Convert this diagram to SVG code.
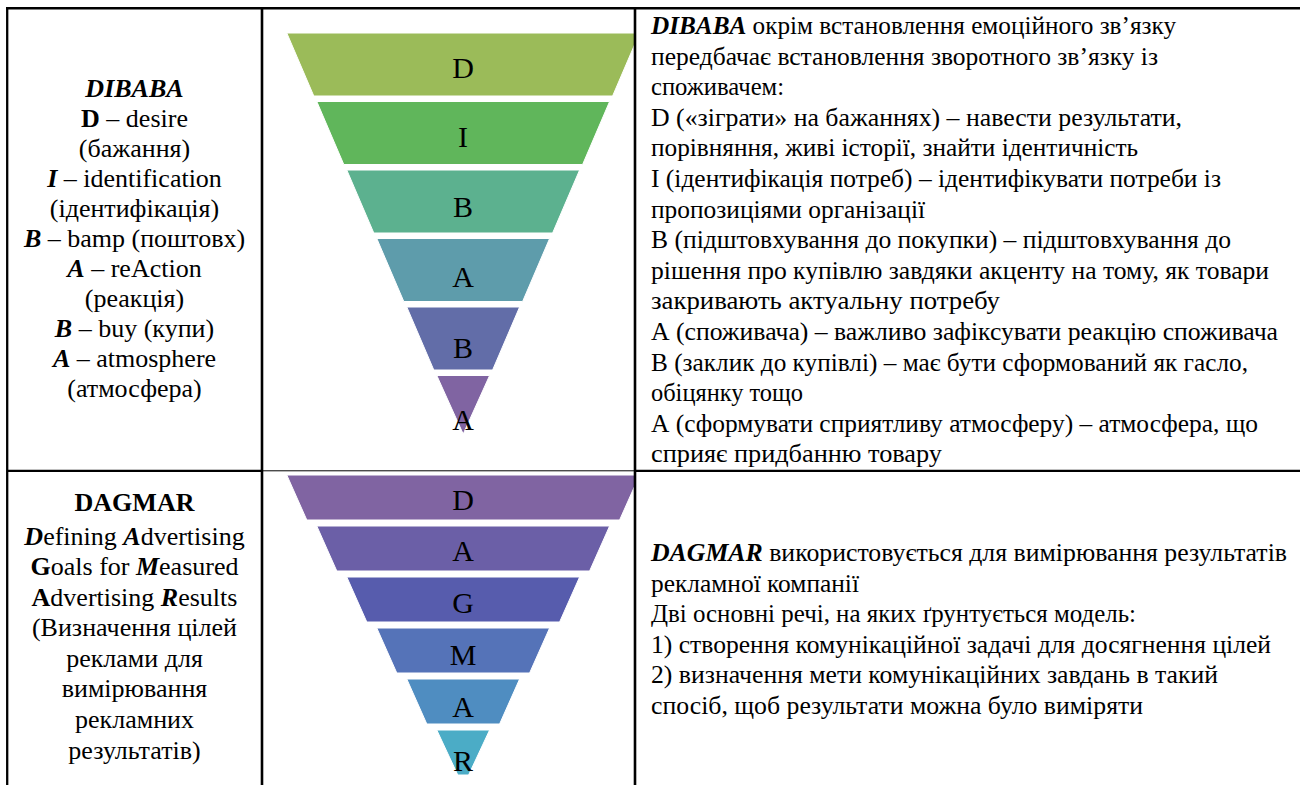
<svg xmlns="http://www.w3.org/2000/svg" width="1300" height="785" viewBox="0 0 1300 785" font-family="Liberation Serif, serif">
<style>
text{font-family:'Liberation Serif',serif;fill:#000}
.t{font-size:26px}
.c{text-anchor:middle}
.b{font-weight:bold}
.bi{font-weight:bold;font-style:italic}
.fl{font-size:30px;text-anchor:middle}
.band{stroke:#fff;stroke-width:1}
.g{stroke:#000;fill:none}
</style>
<rect width="1300" height="785" fill="#fff"/>

<g id="dibaba-legend">
<text class="t c" x="134.5" y="96.5"><tspan class="bi">DIBABA</tspan></text>
<text class="t c" x="134.5" y="126.5"><tspan class="b">D</tspan> – desire</text>
<text class="t c" x="134.5" y="156.5">(бажання)</text>
<text class="t c" x="134.5" y="186.5"><tspan class="bi">I</tspan> – identification</text>
<text class="t c" x="134.5" y="216.5">(ідентифікація)</text>
<text class="t c" x="134.5" y="246.5"><tspan class="bi">B</tspan> – bamp (поштовх)</text>
<text class="t c" x="134.5" y="276.5"><tspan class="bi">A</tspan> – reAction</text>
<text class="t c" x="134.5" y="306.5">(реакція)</text>
<text class="t c" x="134.5" y="336.5"><tspan class="bi">B</tspan> – buy (купи)</text>
<text class="t c" x="134.5" y="366.5"><tspan class="bi">A</tspan> – atmosphere</text>
<text class="t c" x="134.5" y="396.5">(атмосфера)</text>
</g>

<g id="dibaba-funnel">
<polygon class="band" fill="#9BBB59" points="286.8,33 635,33 635,43.7 612.6,96 313.8,96"/>
<polygon class="band" fill="#60B65B" points="316.8,101.5 609.6,101.5 582.6,164.5 343.8,164.5"/>
<polygon class="band" fill="#5CB18F" points="346.8,170 579.6,170 552.6,233 373.8,233"/>
<polygon class="band" fill="#5E9CAB" points="376.8,238.5 549.6,238.5 522.6,301.5 403.8,301.5"/>
<polygon class="band" fill="#626DA8" points="406.8,307 519.6,307 492.6,370 433.8,370"/>
<polygon class="band" fill="#8064A2" points="436.8,375.5 489.6,375.5 463.2,434"/>
<text class="fl" x="463" y="78">D</text>
<text class="fl" x="463" y="147">I</text>
<text class="fl" x="463" y="216.5">B</text>
<text class="fl" x="463" y="287">A</text>
<text class="fl" x="463" y="358">B</text>
<text class="fl" x="463" y="430">A</text>
</g>

<g id="dibaba-description">
<text class="t" x="651" y="34" textLength="525" lengthAdjust="spacingAndGlyphs"><tspan class="bi">DIBABA</tspan> окрім встановлення емоційного зв’язку</text>
<text class="t" x="651" y="64.6" textLength="507" lengthAdjust="spacingAndGlyphs">передбачає встановлення зворотного зв’язку із</text>
<text class="t" x="651" y="95.2" textLength="133" lengthAdjust="spacingAndGlyphs">споживачем:</text>
<text class="t" x="651" y="125.8" textLength="531" lengthAdjust="spacingAndGlyphs">D («зіграти» на бажаннях) – навести  результати,</text>
<text class="t" x="651" y="156.4" textLength="487" lengthAdjust="spacingAndGlyphs">порівняння, живі історії, знайти ідентичність</text>
<text class="t" x="651" y="187" textLength="570" lengthAdjust="spacingAndGlyphs">I (ідентифікація потреб) – ідентифікувати потреби із</text>
<text class="t" x="651" y="217.6" textLength="274" lengthAdjust="spacingAndGlyphs">пропозиціями організації</text>
<text class="t" x="651" y="248.2" textLength="580" lengthAdjust="spacingAndGlyphs">В (підштовхування до покупки) – підштовхування до</text>
<text class="t" x="651" y="278.8" textLength="618" lengthAdjust="spacingAndGlyphs">рішення про купівлю завдяки акценту на тому, як товари</text>
<text class="t" x="651" y="309.4" textLength="349" lengthAdjust="spacingAndGlyphs">закривають актуальну потребу</text>
<text class="t" x="651" y="340" textLength="627" lengthAdjust="spacingAndGlyphs">А (споживача) – важливо зафіксувати реакцію споживача</text>
<text class="t" x="651" y="370.6" textLength="597" lengthAdjust="spacingAndGlyphs">В (заклик до купівлі) – має бути сформований як гасло,</text>
<text class="t" x="651" y="401.2" textLength="152" lengthAdjust="spacingAndGlyphs">обіцянку тощо</text>
<text class="t" x="651" y="431.8" textLength="607" lengthAdjust="spacingAndGlyphs">А (сформувати сприятливу атмосферу) – атмосфера, що</text>
<text class="t" x="651" y="462.4" textLength="291" lengthAdjust="spacingAndGlyphs">сприяє придбанню товару</text>
</g>

<g id="dagmar-legend">
<text class="t c b" x="134.5" y="511">DAGMAR</text>
<text class="t c" x="134.5" y="544.5"><tspan class="bi">D</tspan>efining <tspan class="bi">A</tspan>dvertising</text>
<text class="t c" x="134.5" y="575"><tspan class="b">G</tspan>oals for <tspan class="bi">M</tspan>easured</text>
<text class="t c" x="134.5" y="605.5"><tspan class="b">A</tspan>dvertising <tspan class="bi">R</tspan>esults</text>
<text class="t c" x="134.5" y="636">(Визначення цілей</text>
<text class="t c" x="134.5" y="666.5">реклами для</text>
<text class="t c" x="134.5" y="697">вимірювання</text>
<text class="t c" x="134.5" y="728">рекламних</text>
<text class="t c" x="134.5" y="759">результатів)</text>
</g>

<g id="dagmar-funnel">
<polygon class="band" fill="#8064A2" points="286.8,475 635,475 635,485.4 619.6,520 306.8,520"/>
<polygon class="band" fill="#6B5FA7" points="316.8,526 609.6,526 589.6,571 336.8,571"/>
<polygon class="band" fill="#575CAD" points="346.8,577 579.6,577 559.6,622 366.8,622"/>
<polygon class="band" fill="#5573B8" points="376.8,628 549.6,628 529.6,673 396.8,673"/>
<polygon class="band" fill="#4F8DC1" points="406.8,679 519.6,679 499.6,724 426.8,724"/>
<polygon class="band" fill="#4BACC6" points="436.8,730 489.6,730 468.6,775 457.8,775"/>
<text class="fl" x="463" y="510">D</text>
<text class="fl" x="463" y="561">A</text>
<text class="fl" x="463" y="613">G</text>
<text class="fl" x="463" y="665">M</text>
<text class="fl" x="463" y="717">A</text>
<text class="fl" x="463" y="771">R</text>
</g>

<g id="dagmar-description">
<text class="t" x="651" y="561" textLength="636" lengthAdjust="spacingAndGlyphs"><tspan class="bi">DAGMAR</tspan> використовується для вимірювання результатів</text>
<text class="t" x="651" y="591.5" textLength="208" lengthAdjust="spacingAndGlyphs">рекламної компанії</text>
<text class="t" x="651" y="622" textLength="485" lengthAdjust="spacingAndGlyphs">Дві основні речі, на яких ґрунтується модель:</text>
<text class="t" x="651" y="652.5" textLength="620" lengthAdjust="spacingAndGlyphs">1) створення комунікаційної задачі для досягнення цілей</text>
<text class="t" x="651" y="683" textLength="567" lengthAdjust="spacingAndGlyphs">2) визначення мети комунікаційних завдань в такий</text>
<text class="t" x="651" y="713.5" textLength="492" lengthAdjust="spacingAndGlyphs">спосіб, щоб результати можна було виміряти</text>
</g>

<g id="table-grid" class="g">
<line x1="6" y1="8.3" x2="1300" y2="8.3" stroke-width="2.6"/>
<line x1="7.2" y1="7" x2="7.2" y2="785" stroke-width="2.3"/>
<line x1="262" y1="7" x2="262" y2="785" stroke-width="2.6"/>
<line x1="635" y1="7" x2="635" y2="785" stroke-width="2.6"/>
<line x1="7" y1="470.8" x2="262" y2="470.8" stroke-width="2.2"/>
<line x1="262" y1="470.8" x2="635" y2="470.8" stroke-width="1"/>
<line x1="635" y1="470.8" x2="1300" y2="470.8" stroke-width="2.2"/>
</g>
</svg>
